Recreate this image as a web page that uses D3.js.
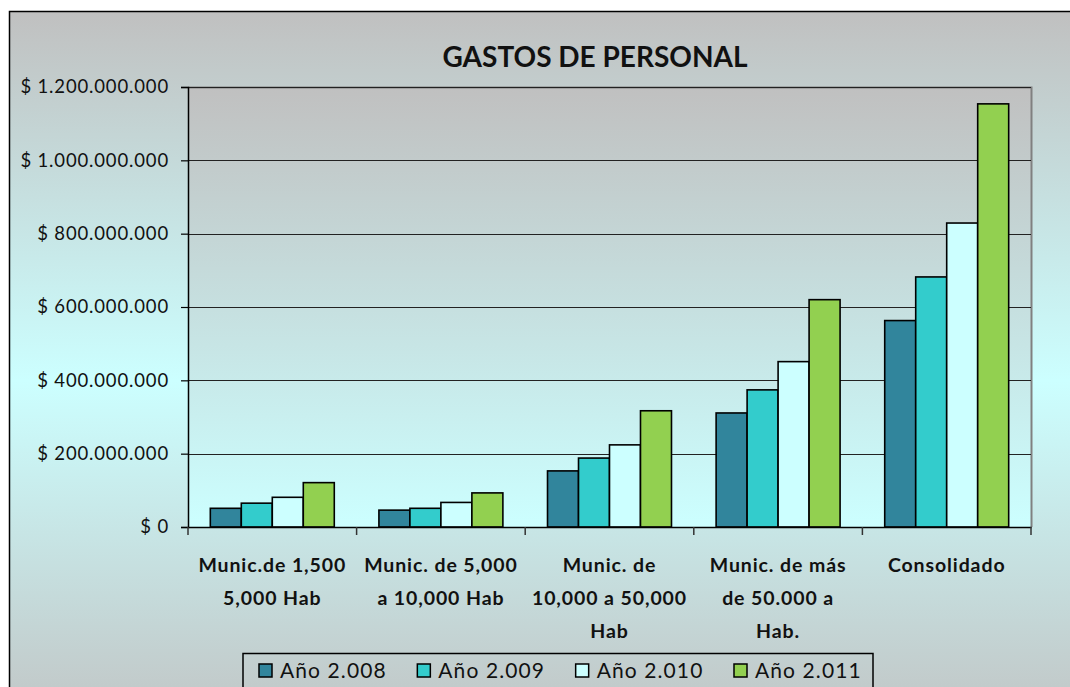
<!DOCTYPE html>
<html><head><meta charset="utf-8">
<script src="https://cdn.jsdelivr.net/npm/d3@7"></script>
<style>body{margin:0;background:#fff;}svg{display:block;}</style>
</head><body>
<svg id="chart" width="1070" height="687"></svg>
<script>
const categories = [
  "Munic.de 1,500\n5,000 Hab",
  "Munic. de 5,000\na 10,000 Hab",
  "Munic. de\n10,000 a 50,000\nHab",
  "Munic. de más\nde 50.000 a\nHab.",
  "Consolidado"
];
const seriesNames = ["Año 2.008", "Año 2.009", "Año 2.010", "Año 2.011"];
const values2008 = [51e6, 46e6, 153e6, 311e6, 563e6];
const values2009 = [65e6, 51e6, 188e6, 374e6, 682e6];
const values2010 = [81e6, 67e6, 224e6, 451e6, 829e6];
const values2011 = [121e6, 93e6, 317e6, 620e6, 1154e6];
const yTicks = [0, 200e6, 400e6, 600e6, 800e6, 1000e6, 1200e6];
const colors = ["#31859c", "#33cccc", "#ccffff", "#92d050"];
const title = "GASTOS DE PERSONAL";

const series = [values2008, values2009, values2010, values2011];
const svg = d3.select("#chart");
const FONT = "Lato, 'DejaVu Sans', sans-serif";

const defs = svg.append("defs");
const g1 = defs.append("linearGradient").attr("id","outerGrad")
  .attr("gradientUnits","userSpaceOnUse").attr("x1",0).attr("x2",0).attr("y1",12).attr("y2",750);
g1.append("stop").attr("offset",0).attr("stop-color","#c0c0c0");
g1.append("stop").attr("offset",0.5).attr("stop-color","#ccffff");
g1.append("stop").attr("offset",1).attr("stop-color","#c0c0c0");
const g2 = defs.append("linearGradient").attr("id","plotGrad")
  .attr("gradientUnits","userSpaceOnUse").attr("x1",0).attr("x2",0).attr("y1",87).attr("y2",527);
g2.append("stop").attr("offset",0).attr("stop-color","#c0c0c0");
g2.append("stop").attr("offset",1).attr("stop-color","#ccffff");

// outer frame
svg.append("rect").attr("x",9.5).attr("y",11.5).attr("width",1100).attr("height",720)
  .attr("fill","url(#outerGrad)").attr("stroke","#000").attr("stroke-width",1.5);

const plot = {left:188, right:1031, top:87, bottom:527};
const x = d3.scaleBand().domain(categories.map((d,i)=>i)).range([plot.left, plot.right]).paddingInner(0).paddingOuter(0);
const y = d3.scaleLinear().domain([0, 1200e6]).range([plot.bottom, plot.top]);

// plot area
svg.append("rect").attr("x",plot.left).attr("y",plot.top)
  .attr("width",plot.right-plot.left).attr("height",plot.bottom-plot.top)
  .attr("fill","url(#plotGrad)");
svg.append("path")
  .attr("d",`M${plot.left},${plot.top+0.5}H${plot.right+0.5}V${plot.bottom}`)
  .attr("fill","none").attr("stroke","#808080").attr("stroke-width",2);

// gridlines
svg.append("g").selectAll("line").data(yTicks.filter(d=>d>0)).join("line")
  .attr("x1",plot.left).attr("x2",plot.right)
  .attr("y1",d=>Math.round(y(d))+0.5).attr("y2",d=>Math.round(y(d))+0.5)
  .attr("stroke","#222").attr("stroke-width",1);

// bars
const inner = d3.scaleBand().domain(d3.range(4)).range([0, x.bandwidth()]).paddingInner(0).paddingOuter(0.72);
const gb = svg.append("g");
series.forEach((vals, s) => {
  gb.append("g").selectAll("rect").data(vals).join("rect")
    .attr("x",(d,i)=>x(i)+inner(s))
    .attr("y",d=>y(d))
    .attr("width",inner.bandwidth())
    .attr("height",d=>y(0)-y(d))
    .attr("fill",colors[s]).attr("stroke","#000").attr("stroke-width",1.6);
});

// y axis
const yAxis = d3.axisLeft(y).tickValues(yTicks).tickSize(7).tickPadding(12)
  .tickFormat(d=>"$ " + (d===0 ? "0" : d3.format(",")(d).replace(/,/g,".")));
const ya = svg.append("g").attr("transform",`translate(${plot.left},0)`).call(yAxis);
ya.select(".domain").attr("stroke","#000").attr("stroke-width",1.5);
ya.selectAll(".tick line").attr("stroke","#000").attr("stroke-width",1.2);
ya.selectAll("text").attr("font-family",FONT).attr("font-size","18.5px").attr("fill","#111")
  .attr("letter-spacing","0.85px");

// x axis
const xAxis = d3.axisBottom(x).tickSize(0).tickFormat("");
const xa = svg.append("g").attr("transform",`translate(0,${plot.bottom})`).call(xAxis);
xa.select(".domain").attr("stroke","#000").attr("stroke-width",1.5);
const boundaries = d3.range(categories.length+1).map(i => i<categories.length ? x(i) : x(i-1)+x.bandwidth());
xa.selectAll(".bticks").data(boundaries).join("line")
  .attr("x1",d=>d).attr("x2",d=>d).attr("y1",0).attr("y2",8)
  .attr("stroke","#333").attr("stroke-width",1.5);

// x labels
categories.forEach((c,i) => {
  const lines = c.split("\n");
  const t = svg.append("text").attr("x",x(i)+x.bandwidth()/2).attr("y",572)
    .attr("text-anchor","middle").attr("font-family",FONT).attr("font-weight","bold")
    .attr("font-size","19.5px").attr("fill","#111").attr("letter-spacing","0.9px");
  lines.forEach((l,k)=>{
    t.append("tspan").attr("x",x(i)+x.bandwidth()/2).attr("dy",k===0?0:33).text(l);
  });
});

// title
svg.append("text").attr("x",595).attr("y",67).attr("text-anchor","middle")
  .attr("font-family",FONT).attr("font-weight","bold").attr("font-size","28px").attr("fill","#111")
  .text(title);

// legend
const lg = svg.append("g");
lg.append("rect").attr("x",243).attr("y",653.5).attr("width",630).attr("height",60)
  .attr("fill","none").attr("stroke","#000").attr("stroke-width",1.5);
const lx = d3.scalePoint().domain(d3.range(4)).range([259, 734]);
seriesNames.forEach((n,s)=>{
  lg.append("rect").attr("x",lx(s)).attr("y",664).attr("width",13).attr("height",13)
    .attr("fill",colors[s]).attr("stroke","#000").attr("stroke-width",1.5);
  lg.append("text").attr("x",lx(s)+21).attr("y",678).attr("font-family",FONT)
    .attr("font-size","21px").attr("fill","#111").attr("letter-spacing","1.1px").text(n);
});
</script>
</body></html>
